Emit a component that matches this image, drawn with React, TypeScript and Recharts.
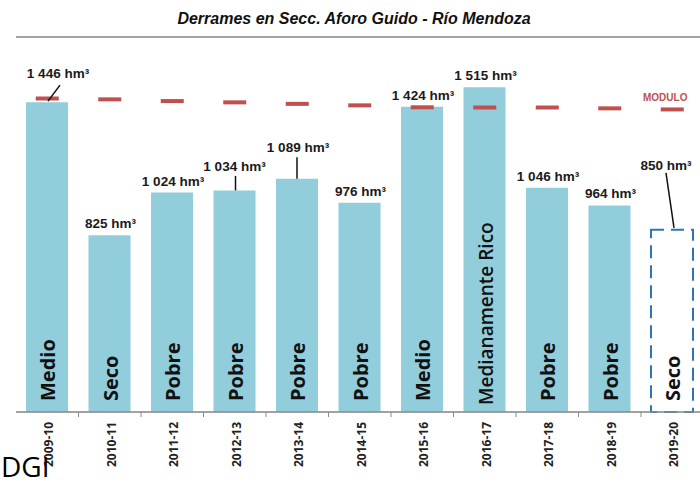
import React from "react";
import {
  ComposedChart,
  Bar,
  Line,
  XAxis,
  YAxis,
  CartesianGrid,
  Cell,
  LabelList,
  ReferenceLine,
} from "recharts";

const seasons = [
  "2009-10", "2010-11", "2011-12", "2012-13", "2013-14", "2014-15",
  "2015-16", "2016-17", "2017-18", "2018-19", "2019-20",
];
const volumes = [1446, 825, 1024, 1034, 1089, 976, 1424, 1515, 1046, 964, 850];
const classes = [
  "Medio", "Seco", "Pobre", "Pobre", "Pobre", "Pobre",
  "Medio", "Medianamente Rico", "Pobre", "Pobre", "Seco",
];
const modulo = [1463, 1459, 1451, 1445, 1438, 1431, 1422, 1421, 1421, 1417, 1412];
const yTicks = [0, 250, 500, 750, 1000, 1250, 1500, 1750];

const data = seasons.map((season, i) => ({
  season,
  volume: volumes[i],
  clase: classes[i],
  modulo: modulo[i],
}));

const CHART_W = 704;
const CHART_H = 482;
const MARGIN = { top: 37, right: 0.5, bottom: 0, left: 16 };
const HALF_BAND = (CHART_W - MARGIN.left - MARGIN.right) / seasons.length / 2;

const BAR_COLOR = "#92CDDC";
const MODULO_COLOR = "#C0504D";
const ESTIMATE_COLOR = "#2E75B6";
const LABEL_FONT = "'Liberation Sans', Arial, sans-serif";
const BODY_FONT = "'Open Sans', 'Noto Sans', sans-serif";

// label placement tweaks (offsets from top centre of each bar)
const LABEL_POS: Record<number, { dx: number; dy: number; line?: number[] }> = {
  0: { dx: 11, dy: -24, line: [13, -17, 1, -1] },
  3: { dx: 0, dy: -19.5, line: [1, -14.5, 1, 0] },
  4: { dx: 1, dy: -26.5, line: [0, -21.5, 0, 0] },
  10: { dx: -6, dy: -60, line: [-6, -57, 2, -2] },
};

const fmt = (v: number) => {
  const s = String(v);
  return s.length > 3 ? `${s.slice(0, s.length - 3)} ${s.slice(-3)}` : s;
};

const getBox = (props: any) => {
  const vb = props.viewBox || props;
  return { x: vb.x ?? props.x, y: vb.y ?? props.y, width: vb.width ?? props.width, height: vb.height ?? props.height };
};

const ValueLabel = (props: any) => {
  const { x, y, width } = getBox(props);
  const index = props.index;
  const text = `${fmt(Number(props.value))} hm³`;
  const pos = LABEL_POS[index] || { dx: 1, dy: -7 };
  const cx = x + width / 2;
  const tx = cx + pos.dx;
  const ty = y + pos.dy;
  const w = text.length * 7 + 4;
  return (
    <g>
      <rect x={tx - w / 2} y={ty - 12} width={w} height={16} fill="#fff" />
      {pos.line ? (
        <line
          x1={cx + pos.line[0]}
          y1={y + pos.line[1]}
          x2={cx + pos.line[2]}
          y2={y + pos.line[3]}
          stroke="#111"
          strokeWidth={1.5}
        />
      ) : null}
      <text
        x={tx}
        y={ty}
        textAnchor="middle"
        fontFamily={LABEL_FONT}
        fontWeight="bold"
        fontSize={13.5}
        fill="#1a1a1a"
      >
        {text}
      </text>
    </g>
  );
};

const ClassLabel = (props: any) => {
  const { x, y, width, height } = getBox(props);
  const index = props.index;
  const long = classes[index].length > 10;
  const tx = x + width / 2 + 8;
  const ty = y + height - (long ? 7 : 11);
  return (
    <text
      x={tx}
      y={ty}
      transform={`rotate(-90, ${tx}, ${ty})`}
      textAnchor="start"
      fontFamily={BODY_FONT}
      fontWeight={long ? 600 : 700}
      fontSize={long ? 19 : 20}
      fill="#111"
    >
      {classes[index]}
    </text>
  );
};

const SeasonTick = (props: any) => {
  const { x, y, payload, index } = props;
  const tx = x + 6;
  const ty = y + 10;
  return (
    <g>
      {index < seasons.length - 1 ? (
        <line x1={x + HALF_BAND} y1={y} x2={x + HALF_BAND} y2={y + 5} stroke="#8a8a8a" />
      ) : null}
      <text
        x={tx}
        y={ty}
        transform={`rotate(-90, ${tx}, ${ty})`}
        textAnchor="end"
        fontFamily={BODY_FONT}
        fontWeight={700}
        fontSize={12}
        fill="#222"
      >
        {payload.value}
      </text>
    </g>
  );
};

const ModuloDot = (props: any) => {
  const { cx, cy, index } = props;
  if (cx == null || cy == null) return <g key={`m-${index}`} />;
  return (
    <g key={`m-${index}`}>
      <rect x={cx - 11.5} y={cy - 2} width={23} height={4} fill={MODULO_COLOR} />
      {index === seasons.length - 1 ? (
        <text
          x={cx - 7}
          y={cy - 8.5}
          textAnchor="middle"
          fontFamily={LABEL_FONT}
          fontWeight="bold"
          fontSize={10}
          fill={MODULO_COLOR}
        >
          MODULO
        </text>
      ) : null}
    </g>
  );
};

export default function App() {
  return (
    <div
      style={{
        position: "absolute",
        left: 0,
        top: 0,
        width: 700,
        height: 482,
        overflow: "hidden",
        background: "#fff",
      }}
    >
      <ComposedChart width={CHART_W} height={CHART_H} data={data} margin={MARGIN}>
        <CartesianGrid vertical={false} stroke="#d9d9d9" />
        <YAxis
          domain={[0, 1750]}
          ticks={yTicks}
          width={0}
          tick={false}
          tickLine={false}
          axisLine={{ stroke: "#8a8a8a" }}
        />
        <XAxis
          dataKey="season"
          interval={0}
          height={70}
          tickSize={0}
          tickMargin={0}
          tickLine={false}
          axisLine={{ stroke: "#8a8a8a", strokeWidth: 1.5 }}
          tick={<SeasonTick />}
        />
        <ReferenceLine y={1750} stroke="#8a8a8a" strokeWidth={1.5} />
        <Bar dataKey="volume" barSize={42} isAnimationActive={false}>
          {data.map((d, i) =>
            i === data.length - 1 ? (
              <Cell
                key={d.season}
                fill="none"
                stroke={ESTIMATE_COLOR}
                strokeWidth={2}
                strokeDasharray="13 7"
              />
            ) : (
              <Cell key={d.season} fill={BAR_COLOR} />
            )
          )}
          <LabelList dataKey="volume" content={<ClassLabel />} />
          <LabelList dataKey="volume" content={<ValueLabel />} />
        </Bar>
        <Line
          dataKey="modulo"
          stroke="none"
          dot={ModuloDot}
          activeDot={false}
          legendType="none"
          isAnimationActive={false}
        />
      </ComposedChart>
      <div
        style={{
          position: "absolute",
          left: 1,
          top: 452,
          fontFamily: BODY_FONT,
          fontSize: 28,
          lineHeight: "28px",
          color: "#000",
        }}
      >
        DGI
      </div>
      <div
        style={{
          position: "absolute",
          left: 0,
          width: 708,
          top: 11,
          textAlign: "center",
          fontFamily: LABEL_FONT,
          fontWeight: "bold",
          fontStyle: "italic",
          fontSize: 16,
          lineHeight: "16px",
          color: "#111",
        }}
      >
        Derrames en Secc. Aforo Guido - Río Mendoza
      </div>
    </div>
  );
}
